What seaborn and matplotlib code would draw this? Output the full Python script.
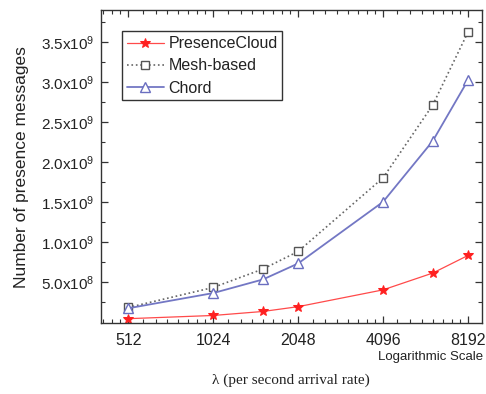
import matplotlib
matplotlib.use("Agg")
import matplotlib.pyplot as plt
import matplotlib.ticker as mticker
import seaborn as sns
import pandas as pd
import numpy as np

# arrival rates (per second) and message counts
rates = [512, 1024, 1536, 2048, 4096, 6144, 8192]
presence_cloud = [0.04e9, 0.08e9, 0.13e9, 0.19e9, 0.40e9, 0.61e9, 0.83e9]
mesh_based = [0.18e9, 0.43e9, 0.66e9, 0.88e9, 1.80e9, 2.71e9, 3.62e9]
chord = [0.17e9, 0.36e9, 0.53e9, 0.73e9, 1.50e9, 2.26e9, 3.02e9]
x_ticks = [512, 1024, 2048, 4096, 8192]
y_ticks = [0.5e9, 1.0e9, 1.5e9, 2.0e9, 2.5e9, 3.0e9, 3.5e9]

sns.set_theme(style="white")
plt.rcParams['font.family'] = ['Liberation Sans', 'DejaVu Sans']
plt.rcParams['mathtext.fontset'] = 'custom'
plt.rcParams['mathtext.rm'] = 'Liberation Sans'
plt.rcParams['mathtext.it'] = 'Liberation Sans'

df = pd.DataFrame({'rate': rates, 'PresenceCloud': presence_cloud,
                   'Mesh-based': mesh_based, 'Chord': chord})

fig = plt.figure(figsize=(4.86, 3.94), dpi=100)
ax = fig.add_axes([0.208, 0.179, 0.783, 0.796])

sns.lineplot(data=df, x='rate', y='PresenceCloud', ax=ax, color='#ff4a4a',
             lw=0.9, marker='*', markersize=7, markeredgecolor='#ff2020',
             markerfacecolor='#ff2020', label='PresenceCloud')
sns.lineplot(data=df, x='rate', y='Mesh-based', ax=ax, color='#666666',
             lw=1.2, linestyle=':', marker='s', markersize=6,
             markerfacecolor='white', markeredgecolor='#555555',
             markeredgewidth=1.0, label='Mesh-based')
sns.lineplot(data=df, x='rate', y='Chord', ax=ax, color='#7377c4',
             lw=1.3, marker='^', markersize=7, markerfacecolor='white',
             markeredgecolor='#6a6ec0', markeredgewidth=1.0, label='Chord')

ax.set_xscale('log', base=2)
ax.set_xlim(410, 9160)
ax.set_ylim(-0.02e9, 3.9e9)
ax.xaxis.set_major_locator(mticker.FixedLocator(x_ticks))
ax.xaxis.set_major_formatter(mticker.FuncFormatter(lambda v, p: f'{int(round(v))}'))
ax.xaxis.set_minor_locator(mticker.LogLocator(base=2, subs=np.arange(1.125, 2, 0.125), numticks=50))
ax.xaxis.set_minor_formatter(mticker.NullFormatter())


def sci_fmt(v, pos):
    exp = int(np.floor(np.log10(v)))
    return f'{v / 10**exp:.1f}x10$^{{{exp}}}$'


ax.yaxis.set_major_locator(mticker.FixedLocator(y_ticks))
ax.yaxis.set_major_formatter(mticker.FuncFormatter(sci_fmt))
ax.yaxis.set_minor_locator(mticker.FixedLocator(np.arange(0.25e9, 3.9e9, 0.5e9)))

for s in ax.spines.values():
    s.set_color('#333333')
    s.set_linewidth(1.0)
ax.tick_params(which='both', direction='in', top=True, right=True,
               color='#333333', bottom=True, left=True)
ax.tick_params(which='major', length=5, width=0.9)
ax.tick_params(which='minor', length=3, width=0.8)
ax.tick_params(axis='x', which='major', labelsize=11.5, pad=7, labelcolor='#222222')
ax.tick_params(axis='y', which='major', labelsize=11, pad=5, labelcolor='#222222')

ax.set_ylabel('Number of presence messages', fontsize=12.5, color='#222222')
ax.yaxis.set_label_coords(-0.19, 0.5)
ax.set_xlabel('λ (per second arrival rate)', fontsize=11,
              family=['Liberation Serif', 'DejaVu Serif'], color='#222222')
ax.xaxis.set_label_coords(0.5, -0.16)

fig.text(0.995, 0.094, 'Logarithmic Scale', fontsize=9.5, ha='right',
         va='center', color='#222222')

leg = ax.legend(loc='upper left', bbox_to_anchor=(0.055, 0.931),
                borderaxespad=0, fontsize=11.5, handlelength=2.3,
                handletextpad=0.3, borderpad=0.3, labelspacing=0.45,
                fancybox=False, framealpha=1, edgecolor='#333333')
leg.get_frame().set_linewidth(1.0)
for t in leg.get_texts():
    t.set_color('#222222')

fig.savefig('out.png', dpi=100)
